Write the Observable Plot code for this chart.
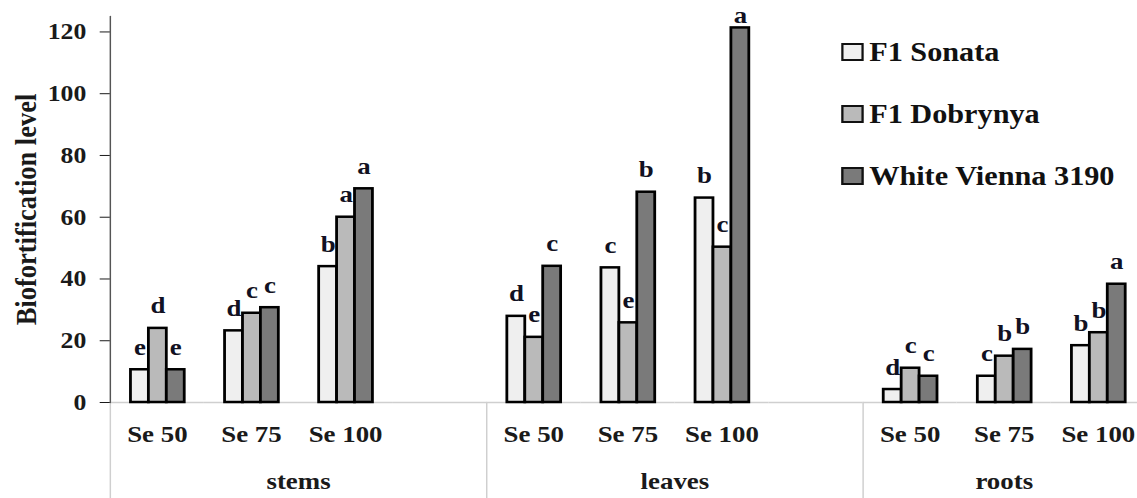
<!DOCTYPE html>
<html>
<head>
<meta charset="utf-8">
<script src="https://cdn.jsdelivr.net/npm/d3@7"></script>
<script src="https://cdn.jsdelivr.net/npm/@observablehq/plot@0.6"></script>
<style>
  html, body { margin: 0; padding: 0; background: #fff; overflow: hidden; }
  #wrap { position: relative; height: 498px; transform-origin: 0 0; }
  #legend { position: absolute; left: 0; top: 0; font-family: "Liberation Serif", "Times New Roman", serif; font-weight: bold; font-size: 27px; color: #111; }
  .row { position: absolute; white-space: nowrap; line-height: 27px; }
  .sw { display: inline-block; box-sizing: border-box; width: 20px; height: 18px; border: 2px solid #111; margin-right: 5px; vertical-align: baseline; }
</style>
</head>
<body>
<div id="wrap"><div id="chart"></div><div id="legend"></div></div>
<script>
// ---- data ----
const organs = ["stems", "leaves", "roots"];
const seLevels = ["Se 50", "Se 75", "Se 100"];
const varieties = ["F1 Sonata", "F1 Dobrynya", "White Vienna 3190"];
// order: stems Se50, Se75, Se100, leaves Se50, Se75, Se100, roots Se50, Se75, Se100
const sonata   = [10.6, 23.2, 44.0, 27.9, 43.6, 66.2, 4.2, 8.5, 18.4];
const dobrynya = [24.0, 28.9, 60.0, 21.1, 25.8, 50.3, 11.1, 15.0, 22.6];
const vienna   = [10.6, 30.7, 69.2, 44.1, 68.1, 121.3, 8.5, 17.2, 38.3];
const sonataLetters   = ["e", "d", "b", "d", "c", "b", "d", "c", "b"];
const dobrynyaLetters = ["d", "c", "a", "e", "e", "c", "c", "b", "b"];
const viennaLetters   = ["e", "c", "a", "c", "b", "a", "c", "b", "a"];
const fills = ["#efefef", "#bababa", "#7a7a7a"];
const yTicks = [0, 20, 40, 60, 80, 100, 120];
const yMax = 125;
const yTitle = "Biofortification level";

// ---- layout ----
const S = 1.12;                       // horizontal stretch of the original figure
const W = Math.round(1137 / S);
const H = 498;
const MT = 16, MB = 96;
const font = '"Liberation Serif", "Times New Roman", serif';

const series = [sonata, dobrynya, vienna];
const letters = [sonataLetters, dobrynyaLetters, viennaLetters];

const cats = [];
organs.forEach((o, i) => {
  seLevels.forEach(s => cats.push(o + "|" + s));
  if (i < organs.length - 1) cats.push(o + "|");
});

const data = [];
organs.forEach((o, oi) => seLevels.forEach((s, si) => varieties.forEach((v, vi) => {
  const k = oi * seLevels.length + si;
  data.push({cat: o + "|" + s, organ: o, se: s, variety: v, value: series[vi][k], letter: letters[vi][k]});
})));

const ml = 107 / S;
const fxEnd = 1147.4 / S;
const mr = W - fxEnd;

const organInfo = organs.map(o => {
  const ks = cats.filter(c => c.startsWith(o + "|"));
  const n = ks.length;
  return n % 2 === 0 ? {organ: o, cat: ks[n / 2], edge: true} : {organ: o, cat: ks[(n - 1) / 2], edge: false};
});
const organStarts = organs.map(o => cats.find(c => c.startsWith(o + "|")));

const lineShape = {draw(context, l) { context.moveTo(0, 0); context.lineTo(0, -l); }};
const nearTop = d => d.value > yMax - 15;
const textStyle = {fontSize: 24, fontWeight: "bold", fill: "#111122"};

const chart = Plot.plot({
  width: W,
  height: H,
  marginLeft: ml,
  marginRight: mr,
  marginTop: MT,
  marginBottom: MB,
  style: {fontFamily: font, background: "transparent", overflow: "visible"},
  fx: {domain: cats, padding: 0},
  x: {domain: varieties, paddingInner: 0, paddingOuter: 1, axis: null},
  y: {domain: [0, yMax]},
  color: {domain: varieties, range: fills},
  marks: [
    // baseline in every category (keeps blank categories non-empty)
    Plot.ruleY(cats, {fx: d => d, y: () => 0, stroke: "#cfcfcf", strokeWidth: 1.3}),
    // separators between organ groups, below the baseline
    Plot.vector(organStarts, {fx: d => d, frameAnchor: "bottom-left", anchor: "start", rotate: 180, length: MB,
      shape: lineShape, stroke: "#cfcfcf", strokeWidth: 1.3}),
    // y axis line
    Plot.vector([cats[0]], {fx: d => d, frameAnchor: "bottom-left", anchor: "start", rotate: 0, length: H - MT - MB,
      shape: lineShape, stroke: "#555", strokeWidth: 1.3}),
    Plot.barY(data, {fx: "cat", x: "variety", y: "value", fill: "variety", stroke: "#000", strokeWidth: 2.5}),
    Plot.text(data.filter(d => !nearTop(d)), {fx: "cat", x: "variety", y: "value", text: "letter", lineAnchor: "bottom", dy: -15, ...textStyle}),
    Plot.text(data.filter(nearTop), {fx: "cat", x: "variety", y: "value", text: "letter", lineAnchor: "bottom", dy: -5, ...textStyle}),
    Plot.axisY({ticks: yTicks, tickSize: 9, tickPadding: 12.5, fontSize: 23, fontWeight: "bold", label: null, color: "#1a1a1a"}),
    Plot.axisFx({anchor: "bottom", tickSize: 0, tickPadding: 22, fontSize: 24, fontWeight: "bold", label: null,
      tickFormat: c => c.split("|")[1], color: "#1a1a1a"}),
    Plot.text(organInfo.filter(d => d.edge), {fx: "cat", text: "organ", frameAnchor: "bottom-left", textAnchor: "middle",
      lineAnchor: "bottom", dy: 86, fontSize: 24, fontWeight: "bold", fill: "#1a1a1a"}),
    Plot.text(organInfo.filter(d => !d.edge), {fx: "cat", text: "organ", frameAnchor: "bottom", textAnchor: "middle",
      lineAnchor: "bottom", dy: 86, fontSize: 24, fontWeight: "bold", fill: "#1a1a1a"}),
    Plot.text([{cat: cats[0], t: yTitle}], {fx: "cat", text: "t", frameAnchor: "left", textAnchor: "middle", lineAnchor: "middle",
      rotate: -90, dx: -75, fontSize: 26.5, fontWeight: "bold", fill: "#1a1a1a"})
  ]
});
document.getElementById("chart").appendChild(chart);

// ---- legend ----
const wrap = document.getElementById("wrap");
wrap.style.width = W + "px";
wrap.style.transform = `scaleX(${1137 / W})`;
const legend = document.getElementById("legend");
legend.style.left = (841 / S) + "px";
varieties.forEach((v, i) => {
  const row = document.createElement("div");
  row.className = "row";
  row.style.top = (39 + i * 62) + "px";
  const sw = document.createElement("span");
  sw.className = "sw";
  sw.style.background = fills[i];
  row.appendChild(sw);
  row.appendChild(document.createTextNode(v));
  legend.appendChild(row);
});
</script>
</body>
</html>
